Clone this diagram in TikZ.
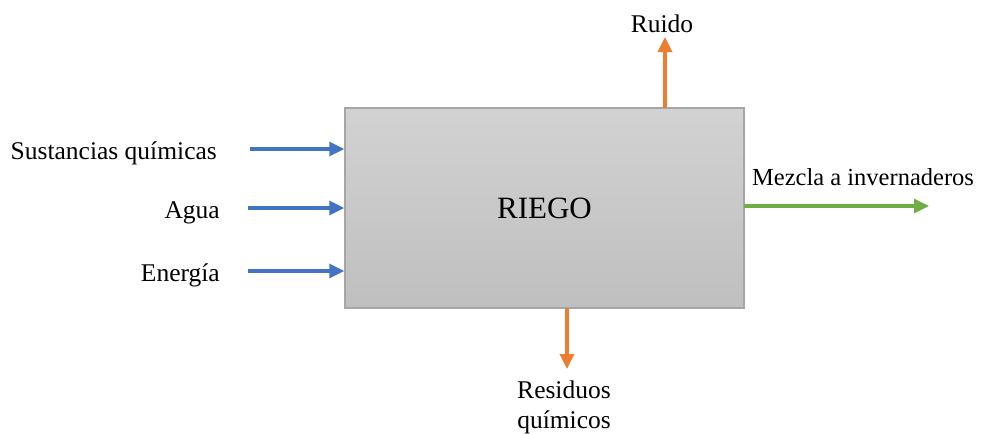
\documentclass[tikz,border=0pt]{standalone}
\usepackage{fontspec}
\setmainfont{Liberation Serif}
\usetikzlibrary{arrows.meta}
\definecolor{inblue}{HTML}{4472C4}
\definecolor{outorange}{HTML}{ED7D31}
\definecolor{outgreen}{HTML}{70AD47}
\definecolor{boxtop}{HTML}{D2D2D2}
\definecolor{boxbot}{HTML}{BFBFBF}
\definecolor{boxedge}{HTML}{A6A6A6}
\tikzset{
  lbl/.style={font=\fontsize{25.5}{29}\selectfont, inner sep=0pt},
  flow/.style={line width=3.3pt, -{Triangle[length=15pt,width=14pt]}},
  inflow/.style={flow, draw=inblue},
  orflow/.style={flow, draw=outorange},
  grflow/.style={flow, draw=outgreen},
}
\begin{document}
\begin{tikzpicture}[x=1pt,y=-1pt]
\useasboundingbox (0,0) rectangle (989,434);
\node[draw=boxedge, line width=1.5pt, top color=boxtop, bottom color=boxbot,
  minimum width=399pt, minimum height=200pt, inner sep=0pt,
  font=\fontsize{31}{34}\selectfont] (box) at (544.5,208) {RIEGO};
% inputs
\node[lbl, anchor=east] (sq) at (217,153) {Sustancias químicas};
\node[lbl, anchor=east] (ag) at (220,213) {Agua};
\node[lbl, anchor=east] (en) at (220,275) {Energía};
\coordinate (sqs) at (250,149);
\coordinate (ags) at (248,208);
\coordinate (ens) at (248,271);
\draw[inflow] (sqs) -- (sqs -| box.west);
\draw[inflow] (ags) -- (ags -| box.west);
\draw[inflow] (ens) -- (ens -| box.west);
% Ruido
\node[lbl] (ru) at (662,24) {Ruido};
\coordinate (rus) at (665,108);
\coordinate (rue) at (665,37);
\draw[orflow] (rus) -- (rue);
% Mezcla
\node[lbl, font=\fontsize{24.5}{28}\selectfont, anchor=west] (mz) at (752,177) {Mezcla a invernaderos};
\coordinate (mzs) at (744,206);
\coordinate (mze) at (929,206);
\draw[grflow] (mzs) -- (mze);
% Residuos
\node[lbl, align=center] (rq) at (564,407) {Residuos\\[1pt]químicos};
\coordinate (rqs) at (567,308);
\coordinate (rqe) at (567,369);
\draw[orflow] (rqs) -- (rqe);
\end{tikzpicture}
\end{document}
